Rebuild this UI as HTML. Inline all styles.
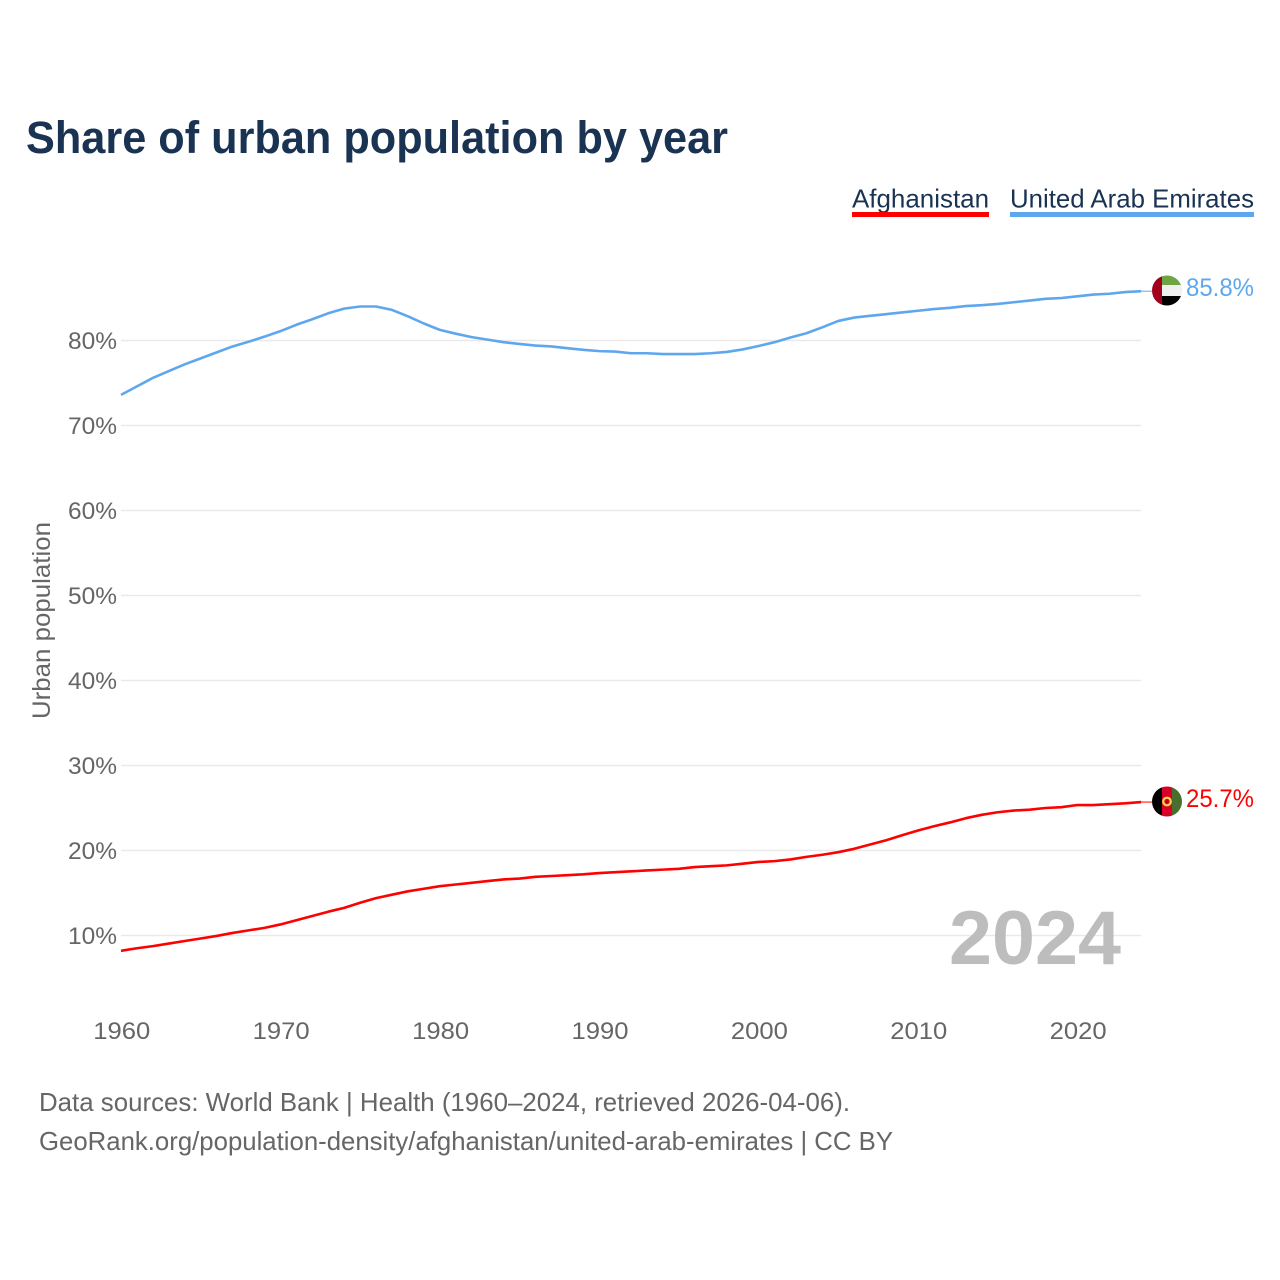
<!DOCTYPE html>
<html lang="en">
<head>
<meta charset="utf-8">
<title>Share of urban population by year</title>
<style>
html,body{margin:0;padding:0;background:#fff;}
svg{display:block;font-family:"Liberation Sans",sans-serif;}
</style>
</head>
<body>
<svg id="chart" xmlns="http://www.w3.org/2000/svg" width="1280" height="1280" viewBox="0 0 1280 1280">
  <defs>
    <clipPath id="clip-uae"><circle cx="1167" cy="290.5" r="15"/></clipPath>
    <clipPath id="clip-afg"><circle cx="1167" cy="801.5" r="15"/></clipPath>
  </defs>
  <rect width="1280" height="1280" fill="#fff"/>
  <text x="26" y="153" font-size="45" font-weight="700" fill="#1a3353" textLength="702" lengthAdjust="spacingAndGlyphs">Share of urban population by year</text>

  <g>
    <text x="852" y="207.5" font-size="26" fill="#1a3353" textLength="137" lengthAdjust="spacingAndGlyphs">Afghanistan</text>
    <rect x="852" y="212" width="137" height="5" fill="#ff0000"/>
  </g>
  <g>
    <text x="1010" y="207.5" font-size="26" fill="#1a3353" textLength="244" lengthAdjust="spacingAndGlyphs">United Arab Emirates</text>
    <rect x="1010" y="212" width="244" height="5" fill="#5ea7ee"/>
  </g>

  <g id="grid"></g>
  <g id="y-labels"></g>
  <g id="x-labels"></g>
  <text transform="translate(50,719) rotate(-90)" font-size="25" fill="#666" textLength="197" lengthAdjust="spacingAndGlyphs">Urban population</text>

  <text x="949" y="964" font-size="76" font-weight="700" fill="#bdbdbd" textLength="172" lengthAdjust="spacingAndGlyphs">2024</text>

  <g id="series"></g>

  <g clip-path="url(#clip-uae)">
    <rect x="1152" y="275" width="30" height="11" fill="#6da544"/>
    <rect x="1152" y="285" width="30" height="11" fill="#f0f0f0"/>
    <rect x="1152" y="296" width="30" height="11" fill="#000"/>
    <rect x="1152" y="275" width="10" height="32" fill="#a2001d"/>
  </g>
  <text id="label-uae" x="1186" y="296" font-size="25" fill="#5ea7ee" textLength="68" lengthAdjust="spacingAndGlyphs"></text>

  <g clip-path="url(#clip-afg)">
    <rect x="1152" y="786" width="10" height="32" fill="#000"/>
    <rect x="1162" y="786" width="10" height="32" fill="#d80027"/>
    <rect x="1172" y="786" width="10" height="32" fill="#496e2d"/>
    <circle cx="1167" cy="801.5" r="3.8" fill="none" stroke="#ffda44" stroke-width="2.2"/>
    <circle cx="1167" cy="801.5" r="1" fill="#a2001d"/>
  </g>
  <text id="label-afg" x="1186" y="807" font-size="25" fill="#ff0000" textLength="68" lengthAdjust="spacingAndGlyphs"></text>

  <text x="39" y="1111" font-size="26" fill="#666" textLength="811" lengthAdjust="spacingAndGlyphs">Data sources: World Bank | Health (1960–2024, retrieved 2026-04-06).</text>
  <text x="39" y="1150" font-size="26" fill="#666" textLength="854" lengthAdjust="spacingAndGlyphs">GeoRank.org/population-density/afghanistan/united-arab-emirates | CC BY</text>
</svg>
<script>
const startYear = 1960;
const yTicks = [10, 20, 30, 40, 50, 60, 70, 80];
const xTicks = [1960, 1970, 1980, 1990, 2000, 2010, 2020];
const uaeValues = [73.6,74.6,75.6,76.4,77.2,77.9,78.6,79.3,79.85,80.45,81.1,81.85,82.5,83.2,83.75,84.0,84.0,83.6,82.85,82.0,81.25,80.8,80.4,80.1,79.8,79.6,79.4,79.3,79.1,78.9,78.75,78.7,78.5,78.5,78.4,78.4,78.4,78.5,78.65,78.95,79.35,79.8,80.35,80.85,81.55,82.3,82.7,82.9,83.1,83.3,83.5,83.7,83.85,84.05,84.15,84.3,84.5,84.7,84.9,85.0,85.2,85.4,85.5,85.7,85.8];
const afgValues = [8.2,8.5,8.75,9.05,9.35,9.65,9.95,10.3,10.6,10.9,11.3,11.8,12.3,12.8,13.25,13.85,14.4,14.8,15.2,15.5,15.8,16.0,16.2,16.4,16.6,16.7,16.9,17.0,17.1,17.2,17.35,17.45,17.55,17.65,17.75,17.85,18.05,18.15,18.25,18.45,18.65,18.75,18.95,19.25,19.5,19.8,20.2,20.7,21.2,21.8,22.35,22.85,23.3,23.8,24.2,24.5,24.7,24.8,25.0,25.1,25.35,25.35,25.45,25.55,25.7];
const uaeLabel = "85.8%";
const afgLabel = "25.7%";

const NS = "http://www.w3.org/2000/svg";
function xScale(year) { return 121 + (year - 1960) * 15.94; }
function yScale(value) { return 935.5 - (value - 10) * 8.5; }
function make(tag, attrs) {
  const el = document.createElementNS(NS, tag);
  Object.keys(attrs).forEach(function (k) { el.setAttribute(k, attrs[k]); });
  return el;
}

const gridGroup = document.getElementById("grid");
const yLabelGroup = document.getElementById("y-labels");
yTicks.forEach(function (t) {
  const line = make("line", { x1: 121, x2: 1141, y1: yScale(t), y2: yScale(t), stroke: "#e9e9e9", "stroke-width": 1.5 });
  
  
  gridGroup.appendChild(line);
  const label = make("text", { x: 68, y: yScale(t) + 8.5, "font-size": 24, fill: "#666", textLength: 49, lengthAdjust: "spacingAndGlyphs" });
  
  
  label.textContent = t + "%";
  yLabelGroup.appendChild(label);
});

const xLabelGroup = document.getElementById("x-labels");
xTicks.forEach(function (t) {
  const label = make("text", { x: xScale(t) - 27.7, y: 1039, "font-size": 24, fill: "#666", textLength: 57, lengthAdjust: "spacingAndGlyphs" });
  
  
  label.textContent = t;
  xLabelGroup.appendChild(label);
});

function pathFor(values) {
  return values.map(function (v, i) {
    return (i ? "L" : "M") + xScale(startYear + i).toFixed(2) + " " + yScale(v).toFixed(2);
  }).join(" ");
}

const seriesGroup = document.getElementById("series");

const uaeLine = make("path", { d: pathFor(uaeValues), fill: "none", stroke: "#5ea7ee", "stroke-width": 2.6, "stroke-linejoin": "round" });


seriesGroup.appendChild(uaeLine);

const afgLine = make("path", { d: pathFor(afgValues), fill: "none", stroke: "#ff0000", "stroke-width": 2.6, "stroke-linejoin": "round" });


seriesGroup.appendChild(afgLine);

const uaeLast = uaeValues[uaeValues.length - 1];
const uaeTail = make("line", { x1: xScale(2024), x2: 1153, y1: yScale(uaeLast), y2: yScale(uaeLast), stroke: "#5ea7ee", "stroke-width": 1 });


seriesGroup.appendChild(uaeTail);

const afgLast = afgValues[afgValues.length - 1];
const afgTail = make("line", { x1: xScale(2024), x2: 1153, y1: yScale(afgLast), y2: yScale(afgLast), stroke: "#ff0000", "stroke-width": 1 });


seriesGroup.appendChild(afgTail);

document.getElementById("label-uae").textContent = uaeLabel;
document.getElementById("label-afg").textContent = afgLabel;
</script>
</body>
</html>
